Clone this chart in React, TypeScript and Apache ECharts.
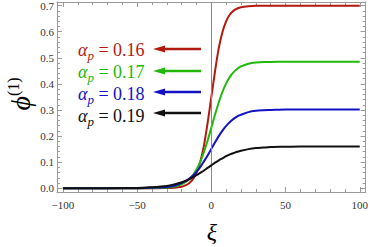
import React, { useEffect, useRef } from "react";
import * as echarts from "echarts";

const xs = [-100, -80, -60, -50, -40, -30, -25, -20, -17.5, -15, -12.5, -10, -7.5, -5, -2.5, 0, 2.5, 5, 7.5, 10, 12.5, 15, 17.5, 20, 25, 30, 35, 40, 50, 60, 80, 100];
const red = [0, 0, 0, 0, 0, 0.001, 0.002, 0.006, 0.011, 0.019, 0.034, 0.059, 0.101, 0.163, 0.251, 0.35, 0.449, 0.537, 0.599, 0.641, 0.666, 0.681, 0.689, 0.694, 0.698, 0.7, 0.7, 0.7, 0.7, 0.7, 0.7, 0.7];
const green = [0, 0, 0, 0, 0.001, 0.003, 0.007, 0.015, 0.023, 0.034, 0.05, 0.072, 0.101, 0.139, 0.183, 0.232, 0.283, 0.329, 0.37, 0.402, 0.427, 0.445, 0.458, 0.467, 0.477, 0.482, 0.484, 0.484, 0.485, 0.485, 0.485, 0.485];
const blue = [0, 0, 0, 0, 0.002, 0.005, 0.01, 0.02, 0.027, 0.036, 0.048, 0.063, 0.081, 0.103, 0.126, 0.151, 0.176, 0.2, 0.221, 0.239, 0.254, 0.266, 0.276, 0.282, 0.292, 0.297, 0.299, 0.3, 0.302, 0.302, 0.302, 0.302];
const black = [0, 0, 0.001, 0.001, 0.004, 0.009, 0.015, 0.023, 0.028, 0.034, 0.042, 0.05, 0.059, 0.068, 0.078, 0.088, 0.098, 0.107, 0.115, 0.123, 0.13, 0.135, 0.14, 0.144, 0.15, 0.154, 0.156, 0.158, 0.159, 0.16, 0.16, 0.16];

const seriesNames = ["0.16", "0.17", "0.18", "0.19"];
const seriesColors = ["#b3190f", "#22b80a", "#1212c4", "#111111"];
const seriesData = [red, green, blue, black];

const xMajor = [-100, -50, 0, 50, 100];
const xMinor = [-90, -80, -70, -60, -40, -30, -20, -10, 10, 20, 30, 40, 60, 70, 80, 90];
const yMajor = [0, 0.1, 0.2, 0.3, 0.4, 0.5, 0.6, 0.7];
const yMinor = [0.02, 0.04, 0.06, 0.08, 0.12, 0.14, 0.16, 0.18, 0.22, 0.24, 0.26, 0.28, 0.32, 0.34, 0.36, 0.38, 0.42, 0.44, 0.46, 0.48, 0.52, 0.54, 0.56, 0.58, 0.62, 0.64, 0.66, 0.68];

const FONT = "Liberation Serif, DejaVu Serif, serif";
const FRAME = "#9a9a9a";

export default function App() {
  const ref = useRef<HTMLDivElement>(null);
  useEffect(() => {
    document.body.style.margin = "0";
    const chart = echarts.init(ref.current!, null, { renderer: "svg" });
    const X_MIN = -104, X_MAX = 104, Y_MIN = -0.0143, Y_MAX = 0.714;

    const mkX = (pos: string, values: number[], len: number, line: boolean, labels: boolean) => ({
      type: "value", position: pos, min: X_MIN, max: X_MAX,
      axisLine: { show: line, onZero: false, lineStyle: { color: FRAME, width: 1 } },
      axisTick: { show: true, inside: true, length: len, customValues: values, lineStyle: { color: FRAME, width: 1 } },
      axisLabel: labels
        ? { show: true, customValues: values, margin: 7, color: "#333", fontFamily: FONT, fontSize: 11,
            formatter: (v: number) => (v < 0 ? "\u2212" + Math.abs(v) : String(v)) }
        : { show: false },
      splitLine: { show: false },
    });
    const mkY = (pos: string, values: number[], len: number, line: boolean, labels: boolean) => ({
      type: "value", position: pos, min: Y_MIN, max: Y_MAX,
      axisLine: { show: line, onZero: false, lineStyle: { color: FRAME, width: 1 } },
      axisTick: { show: true, inside: true, length: len, customValues: values, lineStyle: { color: FRAME, width: 1 } },
      axisLabel: labels
        ? { show: true, customValues: values, margin: 3, color: "#333", fontFamily: FONT, fontSize: 11,
            formatter: (v: number) => v.toFixed(1) }
        : { show: false },
      splitLine: { show: false },
    });

    const labelYs = [50, 72, 94, 116];
    const arrowYs = [49, 71, 92, 113];
    const graphics: any[] = [];
    seriesNames.forEach((n, i) => {
      const c = seriesColors[i];
      graphics.push({
        type: "text", x: 78, y: labelYs[i],
        style: {
          text: "{a|\u03b1}{p|p}{r| = " + n + "}",
          fill: c, align: "left", verticalAlign: "middle", fontFamily: FONT,
          rich: {
            a: { fontFamily: FONT, fontStyle: "italic", fontSize: 18, lineHeight: 24, fill: c },
            p: { fontFamily: FONT, fontStyle: "italic", fontSize: 13, lineHeight: 12, verticalAlign: "bottom", fill: c },
            r: { fontFamily: FONT, fontSize: 18, lineHeight: 24, fill: c },
          },
        },
      });
      const y = arrowYs[i];
      graphics.push({ type: "line", shape: { x1: 162, y1: y, x2: 201, y2: y }, style: { stroke: c, lineWidth: 2.5 } });
      graphics.push({ type: "polygon", shape: { points: [[153, y], [165, y - 3.5], [165, y + 3.5]] }, style: { fill: c } });
    });
    graphics.push({
      type: "text", x: 20, y: 94, rotation: Math.PI / 2,
      style: {
        text: "{f|\u03d5}{s|(1)}", align: "center", verticalAlign: "middle", fill: "#000", fontFamily: FONT,
        rich: {
          f: { fontFamily: FONT, fontStyle: "italic", fontSize: 28, lineHeight: 30, fill: "#000" },
          s: { fontFamily: FONT, fontSize: 16, lineHeight: 16, verticalAlign: "top", fill: "#000" },
        },
      },
    });
    graphics.push({
      type: "text", x: 212, y: 232,
      style: { text: "\u03be", fontFamily: FONT, fontStyle: "italic", fontSize: 24, fill: "#000", align: "center", verticalAlign: "middle" },
    });

    chart.setOption({
      animation: false,
      textStyle: { fontFamily: FONT },
      grid: { left: 57, right: 3, top: 2, bottom: 55, containLabel: false },
      xAxis: [mkX("bottom", xMajor, 5, true, true), mkX("bottom", xMinor, 3, false, false), mkX("top", xMajor, 5, true, false), mkX("top", xMinor, 3, false, false)],
      yAxis: [mkY("left", yMajor, 5, true, true), mkY("left", yMinor, 3, false, false), mkY("right", yMajor, 5, true, false), mkY("right", yMinor, 3, false, false)],
      series: seriesData.map((d, i) => ({
        type: "line", name: seriesNames[i], xAxisIndex: 0, yAxisIndex: 0,
        data: xs.map((x, j) => [x, d[j]]), showSymbol: false, symbol: "none", smooth: 0.3,
        lineStyle: { color: seriesColors[i], width: 2 },
        markLine: i === 0 ? {
          silent: true, symbol: "none", label: { show: false },
          lineStyle: { color: "#888", width: 1, type: "solid" },
          data: [{ xAxis: 0 }],
        } : undefined,
        z: 2 + i,
      })),
      graphic: graphics,
    });
    return () => chart.dispose();
  }, []);
  return <div ref={ref} style={{ width: 371, height: 247, position: "absolute", left: 0, top: 0 }} />;
}
